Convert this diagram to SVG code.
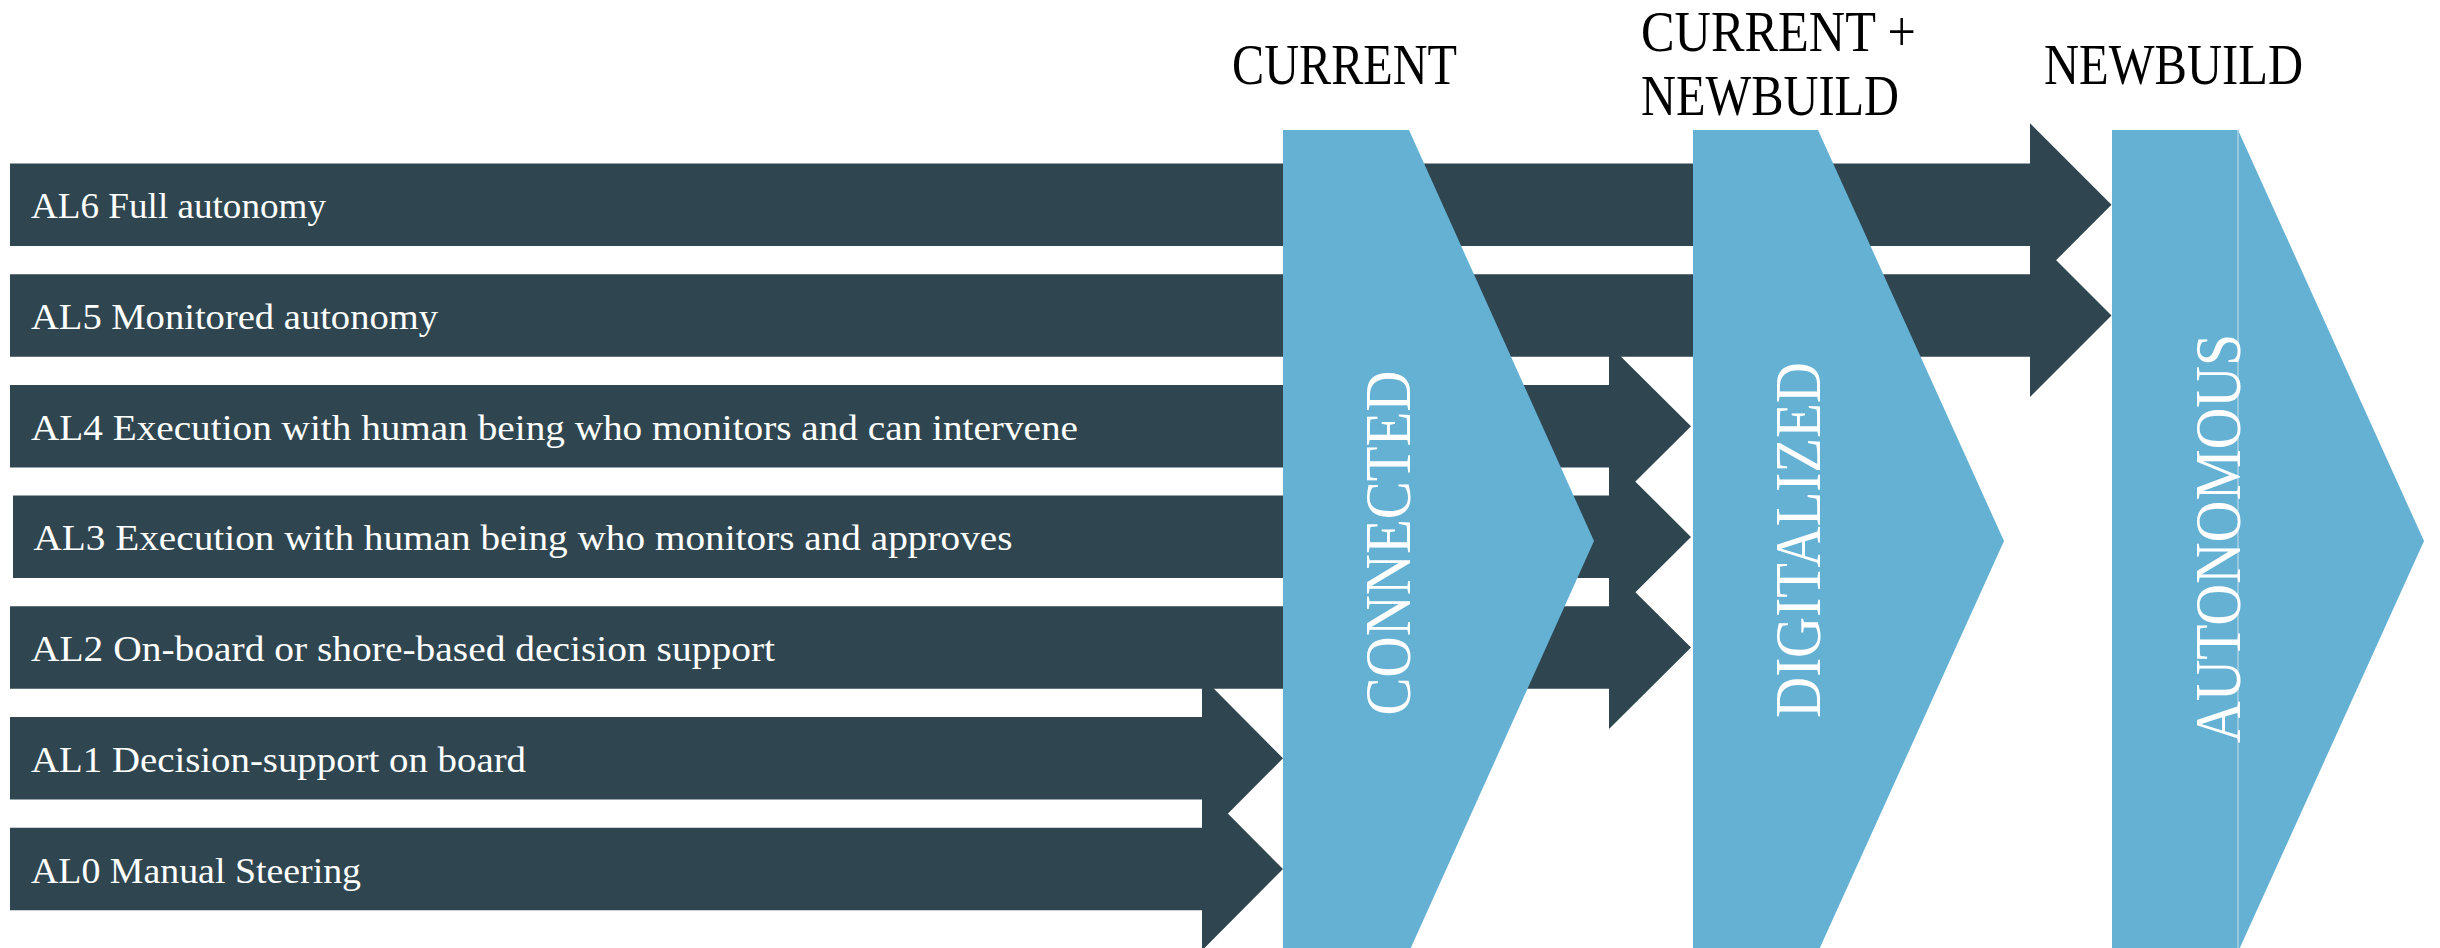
<svg xmlns="http://www.w3.org/2000/svg" width="2440" height="948" viewBox="0 0 2440 948">
<style>
.bar{fill:#2f4650}
.stage{fill:#64b1d4}
.lvl{font-family:"Liberation Serif","DejaVu Serif",serif;font-size:35px;fill:#ffffff}
.hdr{font-family:"Liberation Serif","DejaVu Serif",serif;font-size:56px;fill:#000000}
.stg{font-family:"Liberation Serif","DejaVu Serif",serif;font-size:66px;fill:#ffffff;text-anchor:middle}
</style>
<rect x="0" y="0" width="2440" height="948" fill="#ffffff"/>
<g id="connectors">
<g id="al6">
<polygon class="bar" points="10,163.5 2030,163.5 2030,123.3 2111.5,204.8 2030,286.3 2030,246 10,246"/>
<text class="lvl" x="31" y="218.3" textLength="295" lengthAdjust="spacingAndGlyphs">AL6 Full autonomy</text>
</g>
<g id="al5">
<polygon class="bar" points="10,274.2 2030,274.2 2030,234 2111.5,315.5 2030,397 2030,356.7 10,356.7"/>
<text class="lvl" x="31" y="329" textLength="407" lengthAdjust="spacingAndGlyphs">AL5 Monitored autonomy</text>
</g>
<g id="al4">
<polygon class="bar" points="10,384.9 1609,384.9 1609,344.7 1691,426.2 1609,507.7 1609,467.4 10,467.4"/>
<text class="lvl" x="31" y="439.7" textLength="1047" lengthAdjust="spacingAndGlyphs">AL4 Execution with human being who monitors and can intervene</text>
</g>
<g id="al3">
<polygon class="bar" points="13,495.6 1609,495.6 1609,455.4 1691,536.9 1609,618.4 1609,578.1 13,578.1"/>
<text class="lvl" x="33.5" y="550.4" textLength="979" lengthAdjust="spacingAndGlyphs">AL3 Execution with human being who monitors and approves</text>
</g>
<g id="al2">
<polygon class="bar" points="10,606.3 1609,606.3 1609,566.1 1691,647.6 1609,729.1 1609,688.8 10,688.8"/>
<text class="lvl" x="31" y="661.1" textLength="744" lengthAdjust="spacingAndGlyphs">AL2 On-board or shore-based decision support</text>
</g>
<g id="al1">
<polygon class="bar" points="10,717 1202,717 1202,676.8 1283,758.3 1202,839.8 1202,799.5 10,799.5"/>
<text class="lvl" x="31" y="771.8" textLength="495" lengthAdjust="spacingAndGlyphs">AL1 Decision-support on board</text>
</g>
<g id="al0">
<polygon class="bar" points="10,827.7 1202,827.7 1202,787.5 1283,869 1202,950.5 1202,910.2 10,910.2"/>
<text class="lvl" x="31" y="882.5" textLength="330" lengthAdjust="spacingAndGlyphs">AL0 Manual Steering</text>
</g>
</g>
<g id="connected">
<polygon class="stage" points="1283,130 1409,130 1594,541 1409,952 1283,952"/>
<text class="stg" transform="translate(1410,543) rotate(-90)" textLength="345" lengthAdjust="spacingAndGlyphs">CONNECTED</text>
</g>
<g id="digitalized">
<polygon class="stage" points="1693,130 1818,130 2004,541 1818,952 1693,952"/>
<text class="stg" transform="translate(1820,540) rotate(-90)" textLength="356" lengthAdjust="spacingAndGlyphs">DIGITALIZED</text>
</g>
<g id="autonomous">
<polygon class="stage" points="2112,130 2238,130 2424,541 2238,952 2112,952"/>
<line x1="2238" y1="130" x2="2238" y2="948" stroke="#a6d2e7" stroke-width="1.5"/>
<text class="stg" transform="translate(2240,538.5) rotate(-90)" textLength="409" lengthAdjust="spacingAndGlyphs">AUTONOMOUS</text>
</g>
<g id="headers">
<text class="hdr" x="1232" y="84" textLength="225" lengthAdjust="spacingAndGlyphs">CURRENT</text>
<text class="hdr" x="1641" y="51" textLength="275" lengthAdjust="spacingAndGlyphs">CURRENT +</text>
<text class="hdr" x="1641" y="115" textLength="258" lengthAdjust="spacingAndGlyphs">NEWBUILD</text>
<text class="hdr" x="2044" y="84" textLength="259" lengthAdjust="spacingAndGlyphs">NEWBUILD</text>
</g>
</svg>
